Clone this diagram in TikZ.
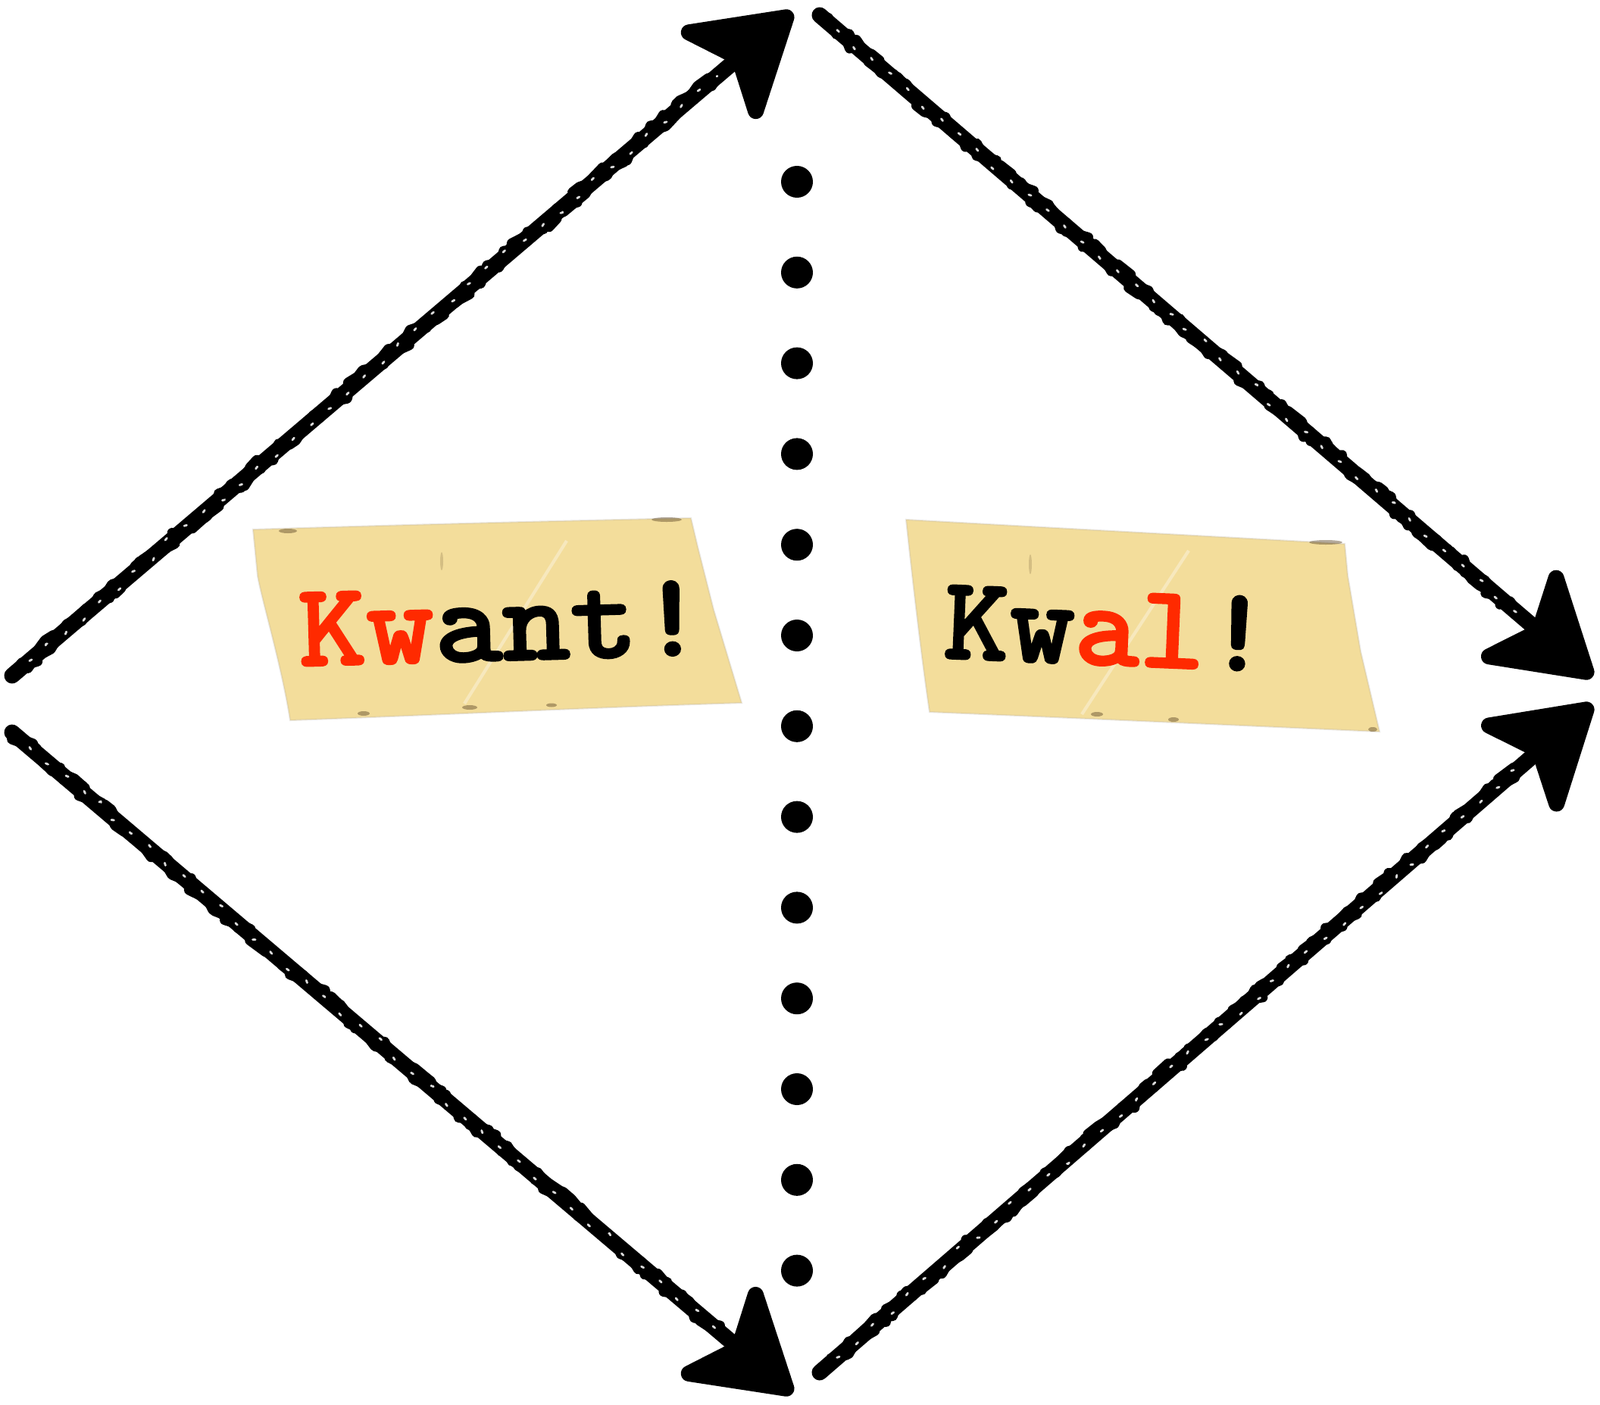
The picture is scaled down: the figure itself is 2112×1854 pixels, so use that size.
\documentclass[tikz,border=0pt]{standalone}
\usepackage{fontspec}
\newfontfamily\tw{lmmonolt10-bold.otf}[FakeBold=1.6]
\usetikzlibrary{arrows.meta,decorations.pathmorphing,calc}
\definecolor{tape}{HTML}{F3DD9B}
\definecolor{kred}{HTML}{FF2A00}
\definecolor{spot}{HTML}{5A4526}
\begin{document}
\begin{tikzpicture}[x=0.01cm,y=-0.01cm,
  chalk/.style={draw=black, line width=0.21cm, line cap=round, line join=round,
    -{Stealth[length=1.52cm,width=1.85cm,inset=0.38cm,line width=6pt,round]}},
  rough/.style={draw=black, line width=0.13cm, line join=round, line cap=round,
    decorate, decoration={random steps,segment length=3pt,amplitude=2.3pt}},
  speck/.style={draw=white, line width=0.8pt,
    dash pattern=on 1pt off 8pt, line cap=round, opacity=0.85,
    decorate, decoration={random steps,segment length=5pt,amplitude=1.8pt}},
  tapebox/.style={fill=tape, draw=spot!40, draw opacity=0.3, line width=0.6pt},
  tapespot/.style={fill=spot, opacity=0.45},
  crease/.style={draw=white, opacity=0.35, line width=1.2pt},
  dotnode/.style={circle, fill=black, inner sep=0pt, minimum size=0.42cm},
  word/.style={font=\tw\fontsize{45}{50}\selectfont, inner sep=0pt, anchor=base}
]
\useasboundingbox (0,0) rectangle (2112,1854);

% arrow end points
\coordinate (s1) at (16,892);   \coordinate (t1) at (1046,16);
\coordinate (s2) at (1082,20);  \coordinate (t2) at (2102,894);
\coordinate (s3) at (16,967);   \coordinate (t3) at (1046,1840);
\coordinate (s4) at (1082,1812);\coordinate (t4) at (2102,930);

\foreach \a in {1,2,3,4}{
  \draw[chalk] (s\a) -- (t\a);
  \coordinate (e\a) at ($(t\a)!1.3cm!(s\a)$);
  \coordinate (b\a) at ($(s\a)!0.3cm!(t\a)$);
  \draw[rough] (s\a) -- (e\a);
  \draw[rough, decoration={random steps,segment length=4pt,amplitude=2pt}] (s\a) -- (e\a);
  \draw[speck] (b\a) -- (e\a);
}

% dotted divider
\foreach \i in {0,...,12}{
  \node[dotnode] (d\i) at (1052,{240+119.8*\i}) {};
}

% left tape
\path[tapebox] (334,699) .. controls (530,693) and (720,688) .. (912,684)
  -- (921,722) -- (942,805) -- (979,928)
  .. controls (780,934) and (580,944) .. (383,951)
  .. controls (372,880) and (345,790) .. (340,760) -- cycle;
\fill[tapespot] (380,701) ellipse (12 and 3);
\fill[tapespot] (880,686) ellipse (20 and 3);
\fill[tapespot] (620,934) ellipse (10 and 3);
\fill[tapespot] (728,931) ellipse (7 and 2.5);
\fill[tapespot] (480,942) ellipse (8 and 3);
\fill[tapespot, opacity=0.2] (583,741) ellipse (2 and 12);
\draw[crease] (748,714) -- (613,929);
\node[word, rotate=1.6] (kwant) at (664,872)
  {\scalebox{1.08}[1]{\textcolor{kred}{Kw}ant!}};

% right tape
\path[tapebox] (1196,686) .. controls (1390,697) and (1580,707) .. (1775,718)
  -- (1779,760) -- (1796,860) -- (1821,966)
  .. controls (1620,957) and (1420,948) .. (1227,940)
  .. controls (1218,880) and (1206,780) .. cycle;
\fill[tapespot] (1750,716) ellipse (22 and 3);
\fill[tapespot] (1448,943) ellipse (8 and 3);
\fill[tapespot] (1549,950) ellipse (7 and 3);
\fill[tapespot] (1812,963) ellipse (6 and 3);
\fill[tapespot, opacity=0.2] (1360,745) ellipse (2 and 13);
\draw[crease] (1569,727) -- (1428,943);
\node[word, rotate=-2.4] (kwal) at (1460,878)
  {\scalebox{1.04}[1]{Kw\textcolor{kred}{al}!}};
\end{tikzpicture}
\end{document}
